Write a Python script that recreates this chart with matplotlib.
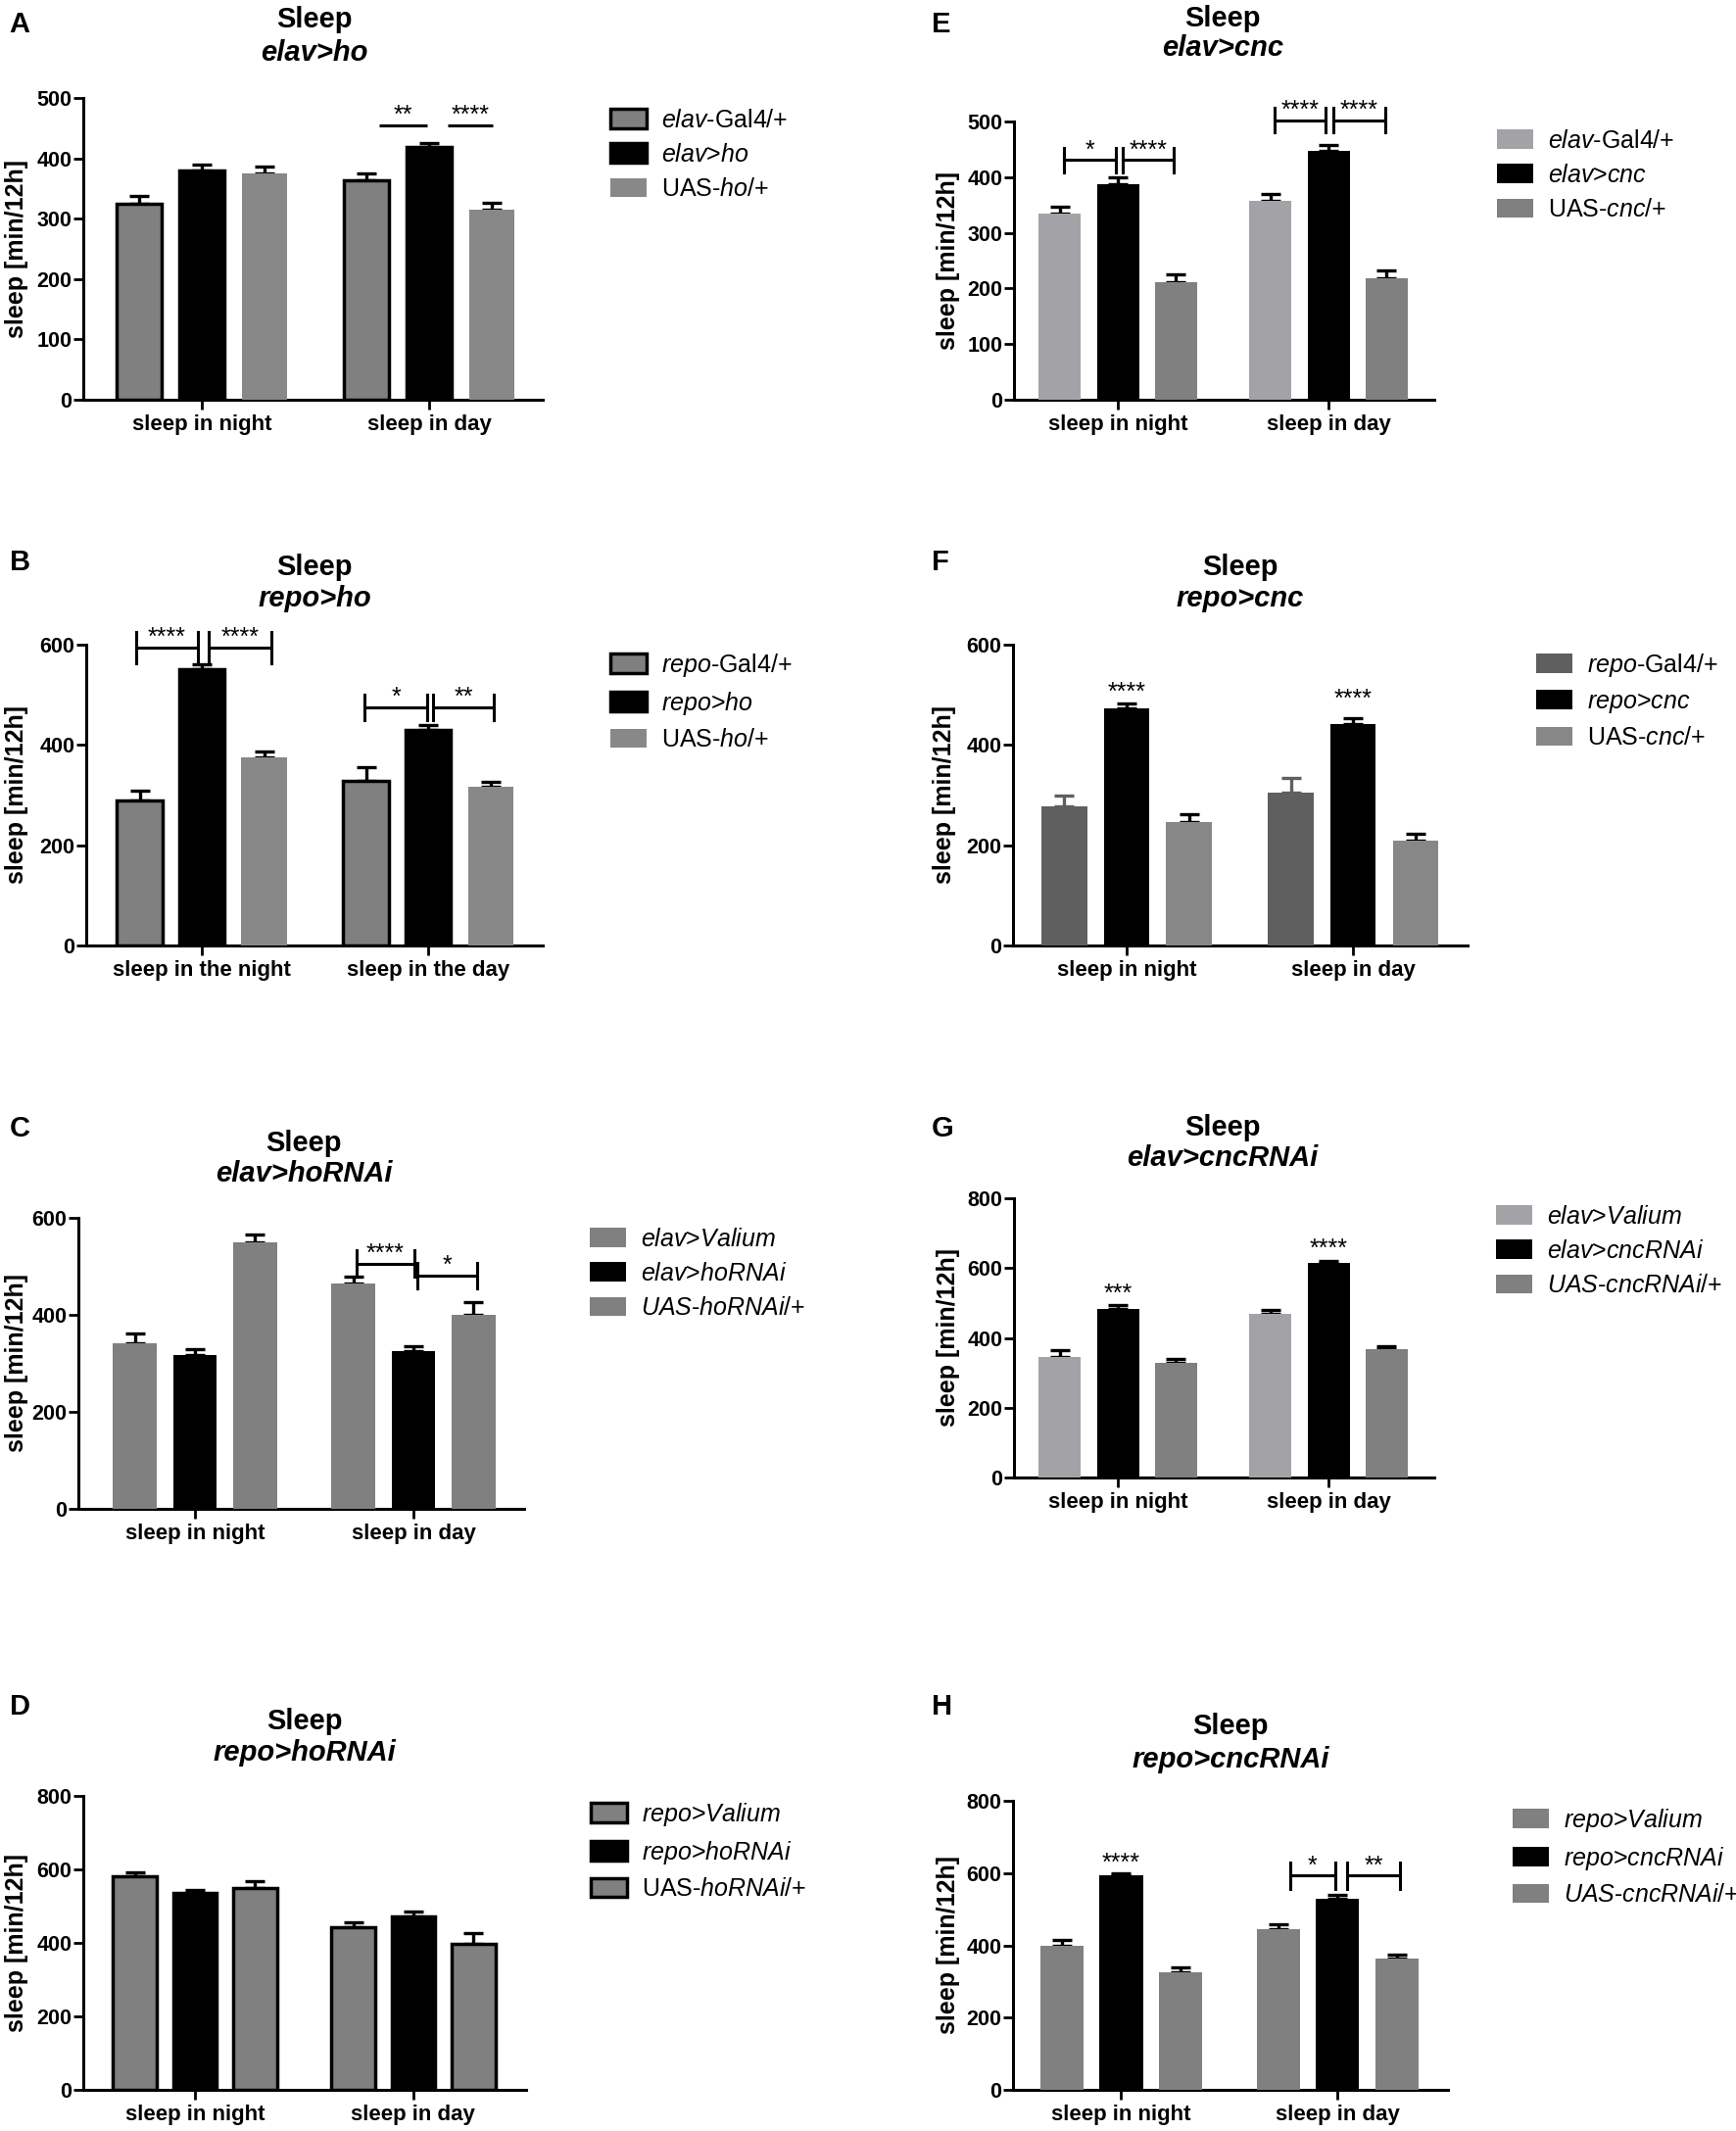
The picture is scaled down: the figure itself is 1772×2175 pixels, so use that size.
import matplotlib
matplotlib.use('Agg')
import matplotlib.pyplot as plt
import numpy as np

plt.rcParams['font.family'] = ['Liberation Sans', 'DejaVu Sans']
plt.rcParams['mathtext.fontset'] = 'custom'
plt.rcParams['mathtext.rm'] = 'Liberation Sans'
plt.rcParams['mathtext.it'] = 'Liberation Sans:italic'
plt.rcParams['mathtext.bf'] = 'Liberation Sans:bold'

W, H = 1772, 2175

# ---- data (mean sleep, SEM) : rows = genotypes, cols = night / day ----
groups = ['sleep in night', 'sleep in day']
groups_b = ['sleep in the night', 'sleep in the day']

a_mean = [[325, 363], [380, 419], [375, 315]]
a_err = [[12, 12], [9, 7], [11, 11]]
a_names = [r'$\mathit{elav}$-Gal4/+', r'$\mathit{elav}$>$\mathit{ho}$', r'UAS-$\mathit{ho}$/+']

b_mean = [[290, 329], [551, 430], [376, 316]]
b_err = [[19, 26], [9, 9], [10, 11]]
b_names = [r'$\mathit{repo}$-Gal4/+', r'$\mathit{repo}$>$\mathit{ho}$', r'UAS-$\mathit{ho}$/+']

c_mean = [[342, 464], [317, 326], [550, 399]]
c_err = [[20, 14], [12, 10], [15, 28]]
c_names = [r'$\mathit{elav}$>$\mathit{Valium}$', r'$\mathit{elav}$>$\mathit{hoRNAi}$',
           r'$\mathit{UAS}$-$\mathit{hoRNAi}$/+']

d_mean = [[582, 444], [535, 473], [550, 397]]
d_err = [[10, 13], [10, 13], [18, 31]]
d_names = [r'$\mathit{repo}$>$\mathit{Valium}$', r'$\mathit{repo}$>$\mathit{hoRNAi}$',
           r'UAS-$\mathit{hoRNAi}$/+']

e_mean = [[334, 357], [387, 448], [211, 218]]
e_err = [[13, 12], [13, 10], [14, 14]]
e_names = [r'$\mathit{elav}$-Gal4/+', r'$\mathit{elav}$>$\mathit{cnc}$', r'UAS-$\mathit{cnc}$/+']

f_mean = [[278, 305], [473, 441], [247, 210]]
f_err = [[21, 30], [10, 13], [15, 13]]
f_names = [r'$\mathit{repo}$-Gal4/+', r'$\mathit{repo}$>$\mathit{cnc}$', r'UAS-$\mathit{cnc}$/+']

g_mean = [[344, 469], [483, 615], [328, 367]]
g_err = [[20, 11], [12, 6], [12, 9]]
g_names = [r'$\mathit{elav}$>$\mathit{Valium}$', r'$\mathit{elav}$>$\mathit{cncRNAi}$',
           r'$\mathit{UAS}$-$\mathit{cncRNAi}$/+']

h_mean = [[398, 444], [593, 530], [326, 364]]
h_err = [[16, 13], [7, 11], [14, 11]]
h_names = [r'$\mathit{repo}$>$\mathit{Valium}$', r'$\mathit{repo}$>$\mathit{cncRNAi}$',
           r'$\mathit{UAS}$-$\mathit{cncRNAi}$/+']

# significance: (x1, x2, y, label, cap half height)
a_sig = [(0.78, 0.99, 455, '**', 0), (1.08, 1.28, 455, '****', 0)]
b_sig = [(-0.29, -0.017, 594, '****', 31), (0.03, 0.307, 594, '****', 31),
         (0.72, 0.996, 475, '*', 26), (1.02, 1.29, 475, '**', 26)]
c_sig = [(0.74, 1.005, 506, '****', 27), (1.02, 1.29, 481, '*', 27)]
e_sig = [(-0.256, -0.01, 431, '*', 22), (0.023, 0.265, 431, '****', 22),
         (0.744, 0.986, 502, '****', 22), (1.023, 1.27, 502, '****', 22)]
h_sig = [(0.78, 0.99, 593, '*', 36), (1.045, 1.29, 593, '**', 36)]
f_stars = [(0, 491, '****'), (1, 477, '****')]
g_stars = [(0, 506, '***'), (1, 636, '****')]
h_stars = [(0, 608, '****')]

fig = plt.figure(figsize=(W / 100, H / 100), dpi=100)


def fx(x):
    return x / W


def fy(y):
    return 1 - y / H


def panel(rect, xlim, ymax, ystep, means, errs, names, fills, edges, ecols,
          xlabels, letter, letter_xy, title_x, title_y, subtitle, ylab_x,
          leg_xy, sig=(), stars=()):
    l, t, r, b = rect
    ax = fig.add_axes([l / W, 1 - b / H, (r - l) / W, (b - t) / H])
    x = np.arange(2)
    offs = [-0.275, 0, 0.275]
    for i in range(3):
        ax.errorbar(x + offs[i], means[i], yerr=[[0, 0], errs[i]], fmt='none',
                    ecolor=ecols[i], elinewidth=2.4, capsize=7, capthick=2.4, zorder=2)
        ax.bar(x + offs[i], means[i], 0.2, color=fills[i],
               edgecolor=edges[i] if edges[i] else fills[i],
               linewidth=2.5 if edges[i] else 0, label=names[i], zorder=3)
    ax.set_xlim(*xlim)
    ax.set_ylim(0, ymax)
    ax.set_yticks(np.arange(0, ymax + 1, ystep))
    ax.set_xticks(x)
    ax.set_xticklabels(xlabels)
    for s in ['top', 'right']:
        ax.spines[s].set_visible(False)
    for s in ['left', 'bottom']:
        ax.spines[s].set_linewidth(2.2)
    ax.tick_params(axis='y', length=7, width=2, labelsize=15.5, pad=1.5)
    ax.tick_params(axis='x', length=7, width=2, labelsize=16, pad=4)
    for lab in ax.get_xticklabels() + ax.get_yticklabels():
        lab.set_fontweight('bold')

    for x1, x2, y, txt, cap in sig:
        ax.plot([x1, x2], [y, y], color='k', lw=2.2, clip_on=False, solid_capstyle='butt')
        if cap:
            ax.plot([x1, x1], [y - cap, y + cap], color='k', lw=2.2, clip_on=False)
            ax.plot([x2, x2], [y - cap, y + cap], color='k', lw=2.2, clip_on=False)
        ax.annotate(txt, xy=((x1 + x2) / 2, y), xytext=(0, 2), textcoords='offset points',
                    ha='center', va='baseline', fontsize=18, annotation_clip=False)
    for xs, y, txt in stars:
        ax.text(xs, y, txt, ha='center', va='baseline', fontsize=18)

    ax.legend(loc='center left', bbox_to_anchor=(fx(leg_xy[0]), fy(leg_xy[1])),
              bbox_transform=fig.transFigure, frameon=False, fontsize=18,
              handlelength=1.48, handleheight=0.84, handletextpad=0.6,
              labelspacing=0.45, borderpad=0, borderaxespad=0)

    fig.text(fx(ylab_x), fy((t + b) / 2), 'sleep [min/12h]', rotation=90,
             ha='center', va='center', fontsize=18, fontweight='bold')
    fig.text(fx(letter_xy[0]), fy(letter_xy[1]), letter, ha='left', va='baseline',
             fontsize=21, fontweight='bold')
    fig.text(fx(title_x), fy(title_y[0]), 'Sleep', ha='center', va='baseline',
             fontsize=21, fontweight='bold')
    fig.text(fx(title_x), fy(title_y[1]), subtitle, ha='center', va='baseline',
             fontsize=21, fontweight='bold', style='italic')
    return ax


gray, black = '#808080', '#000000'

panel((85, 100, 554, 408), (-0.522, 1.5), 500, 100, a_mean, a_err, a_names,
      [gray, black, '#888888'], ['k', 'k', None], ['k', 'k', 'k'], groups,
      'A', (9, 33), 321, (28, 62), 'elav>ho', 17, (623, 158), sig=a_sig)

panel((88, 658, 554, 965), (-0.511, 1.506), 600, 200, b_mean, b_err, b_names,
      [gray, black, '#888888'], ['k', 'k', None], ['k', 'k', 'k'], groups_b,
      'B', (10, 582), 321, (587, 619), 'repo>ho', 17, (623, 716), sig=b_sig)

panel((80, 1243, 535, 1540), (-0.534, 1.507), 600, 200, c_mean, c_err, c_names,
      [gray, black, gray], [None, None, None], ['k', 'k', 'k'], groups,
      'C', (10, 1160), 310, (1175, 1206), 'elav>hoRNAi', 17, (602, 1300), sig=c_sig)

panel((85, 1833, 537, 2133), (-0.511, 1.516), 800, 200, d_mean, d_err, d_names,
      [gray, black, gray], ['k', 'k', 'k'], ['k', 'k', 'k'], groups,
      'D', (10, 1750), 311, (1765, 1797), 'repo>hoRNAi', 17, (603, 1889))

panel((1035, 124, 1464, 408), (-0.493, 1.502), 500, 100, e_mean, e_err, e_names,
      ['#a3a3a7', black, gray], [None, None, None], ['k', 'k', 'k'], groups,
      'E', (951, 33), 1248, (27, 57), 'elav>cnc', 968, (1528, 179), sig=e_sig)

panel((1034, 658, 1498, 965), (-0.502, 1.506), 600, 200, f_mean, f_err, f_names,
      ['#5f5f5f', black, '#878787'], [None, None, None], ['#5f5f5f', 'k', 'k'], groups,
      'F', (951, 582), 1266, (587, 619), 'repo>cnc', 964, (1568, 715), stars=f_stars)

panel((1035, 1223, 1464, 1508), (-0.493, 1.502), 800, 200, g_mean, g_err, g_names,
      ['#a3a3a7', black, gray], [None, None, None], ['k', 'k', 'k'], groups,
      'G', (951, 1160), 1248, (1159, 1190), 'elav>cncRNAi', 968, (1527, 1277), stars=g_stars)

panel((1034, 1838, 1478, 2133), (-0.5, 1.51), 800, 200, h_mean, h_err, h_names,
      [gray, black, gray], [None, None, None], ['k', 'k', 'k'], groups,
      'H', (951, 1750), 1256, (1770, 1804), 'repo>cncRNAi', 968, (1544, 1895),
      sig=h_sig, stars=h_stars)

fig.savefig('out.png', dpi=100)
